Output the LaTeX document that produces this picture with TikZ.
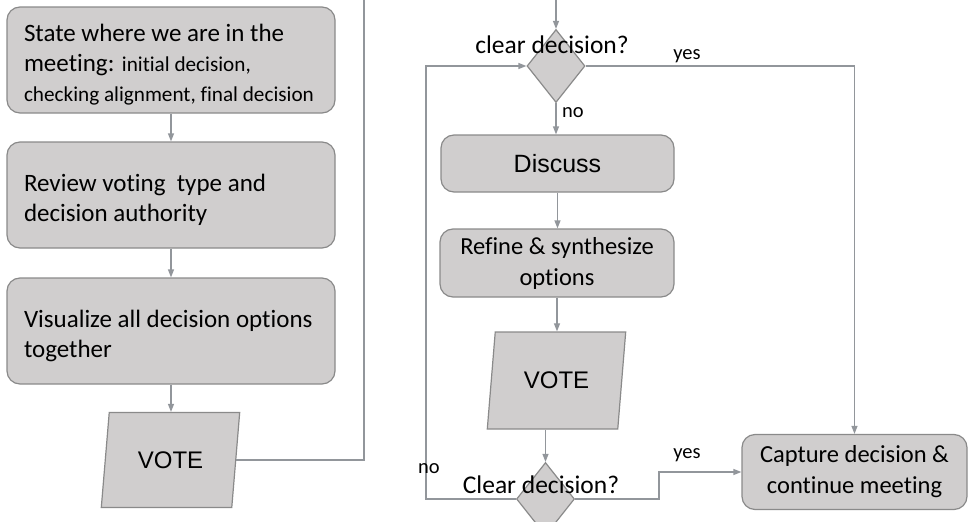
\documentclass[tikz,border=0pt]{standalone}
\usepackage{fontspec}
\setmainfont{Carlito}[Ligatures=NoCommon]
\newfontfamily\arialfont{Liberation Sans}
\usetikzlibrary{shapes.geometric,arrows.meta}

\definecolor{boxfill}{RGB}{208,206,206}
\definecolor{boxline}{RGB}{138,138,138}
\definecolor{wire}{RGB}{146,150,155}

\tikzset{
	stepbox/.style={draw=boxline, fill=boxfill, rounded corners=13pt, line width=1.2pt},
	leftbox/.style={stepbox, text width=294pt, inner xsep=17pt, inner ysep=0pt, minimum height=106pt, align=flush left, font=\fontsize{25}{30}\selectfont, execute at begin node={\rule{0pt}{27pt}}},
	midbox/.style={stepbox, align=center, inner sep=0pt, font=\fontsize{24.5}{31}\selectfont},
	votebox/.style={trapezium, trapezium left angle=76, trapezium right angle=104, trapezium stretches=true, draw=boxline, fill=boxfill, line width=1.2pt, minimum width=139pt, minimum height=95pt, inner sep=0pt, font=\arialfont\fontsize{24}{28}\selectfont},
	choice/.style={diamond, draw=boxline, fill=boxfill, line width=1.2pt, inner sep=0pt, minimum width=58pt, minimum height=73pt},
	question/.style={font=\fontsize{25.5}{30}\selectfont, inner sep=0pt},
	answer/.style={font=\fontsize{20.5}{24}\selectfont, inner sep=0pt},
	flow/.style={draw=wire, line width=1.2pt, -{Triangle[length=8pt,width=6pt]}},
}

\begin{document}
\begin{tikzpicture}[x=1pt, y=-1pt]
	\useasboundingbox (0,0) rectangle (970,522);
	\clip (0,0) rectangle (970,522);

	% left column
	\node [leftbox] (state) at (171,60) {State where we are in the\\[4pt] meeting: {\fontsize{21.2}{26}\selectfont initial decision,\\ checking alignment, final decision}};
	\node [leftbox] (review) at (171,195) {Review voting\ \ type and\\ decision authority};
	\node [leftbox] (visual) at (171,331) {Visualize all decision options\\ together};
	\node [votebox] (vote1) at (170.5,460) {VOTE};

	\draw [flow] (state) -- (review);
	\draw [flow] (review) -- (visual);
	\draw [flow] (visual.south) -- (visual.south |- vote1.north);

	% right column
	\node [choice] (dec1) at (556,66) {};
	\node [question] (q1) at (552,45) {clear decision?};
	\node [midbox, minimum width=233pt, minimum height=57pt, font=\arialfont\fontsize{25}{28}\selectfont] (discuss) at (557.5,163.5) {Discuss};
	\node [midbox, minimum width=234pt, minimum height=68pt] (refine) at (557,263) {Refine \& synthesize\\ options};
	\node [votebox, minimum height=97pt] (vote2) at (556.5,380.5) {VOTE};
	\node [choice] (dec2) at (545.5,499) {};
	\node [question] (q2) at (541,485) {Clear decision?};
	\node [midbox, minimum width=225pt, minimum height=75pt] (cap) at (854.5,472) {Capture decision \&\\ continue meeting};

	\draw [flow] (vote1.east) -| (364,-10) -| (dec1.north);
	\draw [flow] (dec1.south) -- (dec1.south |- discuss.north);
	\draw [flow] (discuss.south) -- (discuss.south |- refine.north);
	\draw [flow] (refine.south) -- (refine.south |- vote2.north);
	\draw [flow] (dec2.north |- vote2.south) -- (dec2.north);
	\draw [flow] (dec1.east) -| (cap.north);
	\draw [flow] (dec2.east) -- (659,499) |- (cap.west);
	\draw [flow] (dec2.west) -| (426,120) |- (dec1.west);

	\node [answer] (no1) at (573,113) {no};
	\node [answer] (yes1) at (687,56) {yes};
	\node [answer] (no2) at (429,469) {no};
	\node [answer] (yes2) at (687,455) {yes};
\end{tikzpicture}
\end{document}
